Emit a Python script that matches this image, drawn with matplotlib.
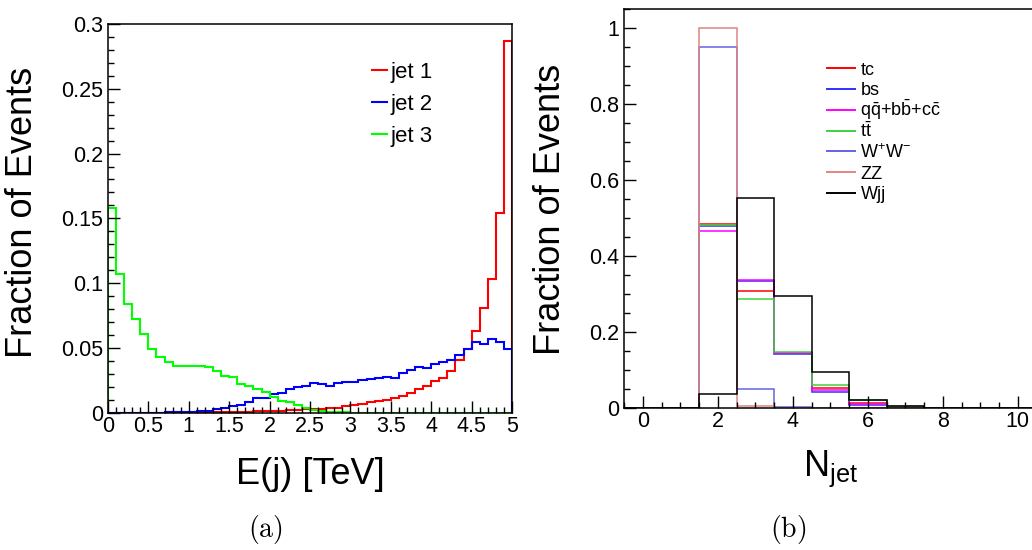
import numpy as np
import matplotlib
matplotlib.use('Agg')
import matplotlib.pyplot as plt
from matplotlib.lines import Line2D
from matplotlib.ticker import MultipleLocator, FormatStrFormatter

plt.rcParams['font.family'] = ['Liberation Sans', 'DejaVu Sans']
plt.rcParams['mathtext.fontset'] = 'custom'
plt.rcParams['mathtext.rm'] = 'Liberation Sans'
plt.rcParams['mathtext.it'] = 'Liberation Sans:italic'
plt.rcParams['mathtext.bf'] = 'Liberation Sans:bold'

# (a) jet energy, 50 bins from 0 to 5 TeV
e_edges = np.linspace(0, 5, 51)
jet1 = [0, 0, 0, 0, 0, 0, 0, 0, 0, 0,
        0.0002, 0.0003, 0.0004, 0.0005, 0.0006, 0.0007, 0.0008, 0.0009, 0.001, 0.0012,
        0.0014, 0.0016, 0.0018, 0.002, 0.0025, 0.003, 0.003, 0.0036, 0.0036, 0.005,
        0.006, 0.0065, 0.008, 0.0088, 0.0098, 0.0113, 0.0132, 0.0155, 0.018, 0.0204,
        0.0242, 0.0271, 0.0322, 0.041, 0.049, 0.063, 0.081, 0.103, 0.154, 0.287]
jet2 = [0, 0, 0, 0, 0, 0, 0, 0.0002, 0.0003, 0.0005,
        0.0008, 0.0012, 0.0015, 0.0025, 0.0034, 0.005, 0.006, 0.008, 0.0111, 0.0116,
        0.0142, 0.0155, 0.018, 0.0201, 0.0209, 0.0227, 0.0222, 0.0209, 0.0227, 0.0235,
        0.0235, 0.0255, 0.0263, 0.027, 0.0278, 0.027, 0.0306, 0.033, 0.035, 0.0348,
        0.0379, 0.0392, 0.0405, 0.0446, 0.0493, 0.0547, 0.0534, 0.0567, 0.0544, 0.0493]
jet3 = [0.158, 0.107, 0.084, 0.0725, 0.0609, 0.0493, 0.0433, 0.0394, 0.0364, 0.036,
        0.0359, 0.0357, 0.0355, 0.0322, 0.0286, 0.0276, 0.0222, 0.0205, 0.0185, 0.016,
        0.0125, 0.0088, 0.0085, 0.0062, 0.0036, 0.002, 0.0012, 0.0006, 0.0004, 0.0002,
        0, 0, 0, 0, 0, 0, 0, 0, 0, 0,
        0, 0, 0, 0, 0, 0, 0, 0, 0, 0]

# (b) jet multiplicity, bins centred on 0..10
n_edges = np.arange(-0.5, 11.5, 1)
n_tc = [0, 0, 0.483, 0.307, 0.143, 0.052, 0.013, 0.002, 0, 0, 0]
n_bs = [0, 0, 0.478, 0.333, 0.141, 0.040, 0.006, 0.001, 0, 0, 0]
n_qq = [0, 0, 0.466, 0.336, 0.145, 0.046, 0.010, 0.001, 0, 0, 0]
n_tt = [0, 0, 0.482, 0.286, 0.147, 0.060, 0.019, 0.003, 0, 0, 0]
n_ww = [0, 0, 0.950, 0.048, 0.001, 0, 0, 0, 0, 0, 0]
n_zz = [0, 0, 1.000, 0.003, 0, 0, 0, 0, 0, 0, 0]
n_wjj = [0, 0, 0.035, 0.553, 0.294, 0.0945, 0.020, 0.003, 0, 0, 0]

fig = plt.figure(figsize=(10.32, 5.50), dpi=100)
W, H = 1032.0, 550.0

def px_axes(x0, x1, ytop, ybot):
    return fig.add_axes([x0 / W, 1 - ybot / H, (x1 - x0) / W, (ybot - ytop) / H])

def root_style(ax):
    for s in ax.spines.values():
        s.set_linewidth(1.1)
    ax.tick_params(which='both', direction='in', top=False, right=False,
                   labelsize=15.5, width=1.0)
    ax.tick_params(which='major', length=8.6)
    ax.tick_params(which='minor', length=4.6)
    ax.tick_params(axis='y', pad=3.5)
    ax.tick_params(axis='x', pad=2.5)

# ---- panel (a)
ax1 = px_axes(108, 512, 24, 412.7)
ax1.stairs(jet1, e_edges, color='#ff0000', lw=1.5, label='jet 1')
ax1.stairs(jet2, e_edges, color='#0000ff', lw=1.5, label='jet 2')
ax1.stairs(jet3, e_edges, color='#00ff00', lw=1.5, label='jet 3')
ax1.set_xlim(0, 5)
ax1.set_ylim(0, 0.3)
ax1.xaxis.set_major_locator(MultipleLocator(0.5))
ax1.xaxis.set_minor_locator(MultipleLocator(0.1))
ax1.yaxis.set_major_locator(MultipleLocator(0.05))
ax1.yaxis.set_minor_locator(MultipleLocator(0.01))
ax1.xaxis.set_major_formatter(FormatStrFormatter('%g'))
ax1.yaxis.set_major_formatter(FormatStrFormatter('%g'))
root_style(ax1)
ax1.set_ylabel('Fraction of Events', fontsize=26, va='center')
ax1.yaxis.set_label_coords((23 - 108) / 404.0, 0.516)
ax1.set_xlabel('E(j) [TeV]', fontsize=26)
ax1.xaxis.set_label_coords(0.5, -0.115)
ax1.legend(loc='upper left', bbox_to_anchor=(371.7 / W, 1 - 62 / H),
           bbox_transform=fig.transFigure, frameon=False, fontsize=16,
           handlelength=0.7, handletextpad=0.15, labelspacing=0.5,
           borderpad=0, borderaxespad=0)

# ---- panel (b)
ax2 = px_axes(624, 1036.5, 9, 407.5)
series = [(n_tc, '#ff0000', 'tc'),
          (n_bs, '#3030ff', 'bs'),
          (n_qq, '#ff00ff', r'q$\bar{\mathrm{q}}$+b$\bar{\mathrm{b}}$+c$\bar{\mathrm{c}}$'),
          (n_tt, '#40d040', r't$\bar{\mathrm{t}}$'),
          (n_ww, '#6464e0', r'W$^{+}$W$^{-}$'),
          (n_zz, '#e08484', 'ZZ'),
          (n_wjj, '#000000', 'Wjj')]
for vals, col, lab in series:
    ax2.stairs(vals, n_edges, color=col, lw=1.1, label=lab)
ax2.set_xlim(-0.5, 10.5)
ax2.set_ylim(0, 1.051)
ax2.xaxis.set_major_locator(MultipleLocator(2))
ax2.xaxis.set_minor_locator(MultipleLocator(0.5))
ax2.yaxis.set_major_locator(MultipleLocator(0.2))
ax2.yaxis.set_minor_locator(MultipleLocator(0.05))
ax2.xaxis.set_major_formatter(FormatStrFormatter('%g'))
ax2.yaxis.set_major_formatter(FormatStrFormatter('%g'))
root_style(ax2)
ax2.set_ylabel('Fraction of Events', fontsize=26, va='center')
ax2.yaxis.set_label_coords((550 - 624) / 412.5, 0.498)
ax2.set_xlabel(r'N$_{\mathrm{jet}}$', fontsize=26)
ax2.xaxis.set_label_coords(0.5, -0.104)

# legend for (b) built by hand so every row gets the same height
row0, row_step = 68.3, 20.8
for i, (vals, col, lab) in enumerate(series):
    yrow = 1 - (row0 + i * row_step) / H
    fig.add_artist(Line2D([827 / W, 855 / W], [yrow, yrow], color=col, lw=1.4,
                          transform=fig.transFigure))
    fig.text(860.5 / W, yrow - 6.3 / H, lab, fontsize=13, va='baseline', ha='left')

# sub-figure captions
fig.text(265 / W, 1 - 530 / H, r'$\mathrm{(a)}$', fontsize=20, ha='center',
         va='center', math_fontfamily='cm')
fig.text(788 / W, 1 - 530 / H, r'$\mathrm{(b)}$', fontsize=20, ha='center',
         va='center', math_fontfamily='cm')

fig.savefig('out.png', dpi=100)
